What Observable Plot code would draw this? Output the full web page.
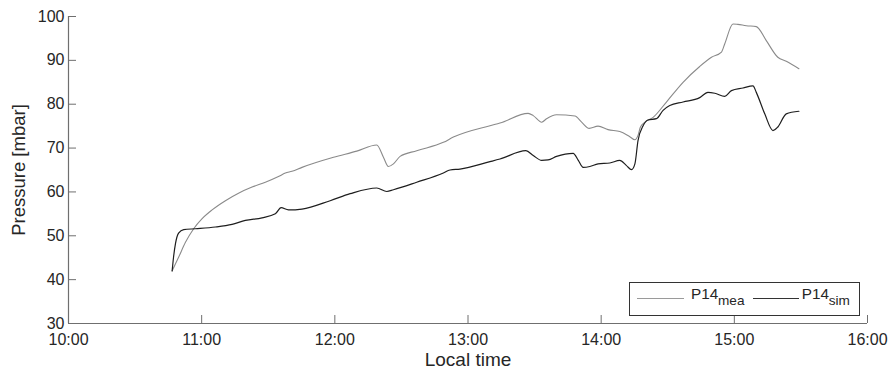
<!DOCTYPE html>
<html>
<head>
<meta charset="utf-8">
<script src="https://cdn.jsdelivr.net/npm/d3@7"></script>
<script src="https://cdn.jsdelivr.net/npm/@observablehq/plot@0.6"></script>
<style>
  html, body { margin: 0; padding: 0; background: #fff; }
  #wrap { position: relative; width: 891px; height: 372px; font-family: "Liberation Sans", Arial, sans-serif; }
  .lg-box { position: absolute; left: 629px; top: 282px; width: 231px; height: 34px; border: 1.4px solid #333; background: #fff; box-sizing: border-box; }
  .lg-ln { position: absolute; top: 297.7px; height: 0; border-top: 1.2px solid; }
  .lg-t { position: absolute; line-height: 1; color: #262626; white-space: nowrap; }
  .lg-main { top: 286px; font-size: 15.3px; }
  .lg-sub { top: 294.2px; font-size: 13.6px; }
</style>
</head>
<body>
<div id="wrap"></div>
<script>
// ---- data (minutes after 10:00, pressure in mbar) ----
const meaMinutes = [46.7, 49.6, 52.7, 56.4, 60.2, 64.7, 70.7, 76.6, 82.7, 88.7, 94.6, 97.7, 100.7, 105.2, 119.4, 129.9, 138.9, 141.9, 144.1, 146.4, 149.4, 156.9, 168.9, 173.4, 189.9, 194.4, 207.1, 209.4, 213.2, 215.4, 219.9, 228.2, 231.2, 234.6, 238.6, 243.1, 248.4, 252.9, 255.2, 256.6, 257.7, 259.7, 263.4, 269.4, 276.9, 284.4, 289.7, 294.2, 295.7, 299.4, 301.6, 305.4, 309.9, 314.4, 319.6, 323.4, 329.1];
const meaValues = [42.0, 45.1, 48.5, 51.6, 53.9, 55.9, 58.0, 59.7, 61.1, 62.2, 63.5, 64.3, 64.7, 65.6, 67.9, 69.3, 70.7, 67.9, 65.8, 66.4, 68.1, 69.4, 71.3, 72.5, 75.1, 75.7, 77.9, 77.4, 75.9, 76.7, 77.6, 77.3, 75.9, 74.5, 75.0, 74.2, 73.8, 72.6, 71.9, 72.9, 74.8, 75.9, 77.0, 80.5, 85.0, 88.6, 90.7, 91.9, 93.8, 98.3, 98.2, 97.9, 97.7, 94.5, 90.7, 89.8, 88.1];
const simMinutes = [46.7, 47.3, 48.2, 49.6, 51.9, 57.2, 66.2, 73.7, 79.7, 87.2, 93.2, 95.8, 99.1, 105.2, 117.9, 126.9, 138.9, 143.4, 146.4, 156.9, 168.9, 171.9, 176.4, 189.9, 194.4, 206.1, 209.4, 213.2, 216.1, 219.9, 227.4, 229.7, 231.9, 234.9, 238.6, 243.9, 248.4, 251.4, 253.7, 255.2, 256.6, 258.9, 261.1, 264.9, 267.9, 270.9, 276.9, 284.4, 288.1, 291.2, 295.7, 298.7, 303.9, 308.4, 309.9, 313.7, 317.4, 319.6, 323.4, 329.1];
const simValues = [42.0, 45.0, 48.2, 50.6, 51.4, 51.6, 52.0, 52.6, 53.5, 54.1, 55.0, 56.4, 55.9, 56.1, 58.0, 59.6, 60.9, 60.1, 60.5, 62.2, 64.3, 65.0, 65.2, 66.9, 67.5, 69.4, 68.3, 67.2, 67.3, 68.1, 68.8, 67.2, 65.6, 65.8, 66.4, 66.6, 67.2, 66.0, 65.1, 66.4, 71.7, 75.1, 76.4, 76.7, 78.6, 79.7, 80.5, 81.5, 82.7, 82.5, 81.8, 83.1, 83.7, 84.2, 82.7, 77.8, 74.0, 74.8, 77.8, 78.4];
const xTickLabels = ["10:00", "11:00", "12:00", "13:00", "14:00", "15:00", "16:00"];
const yTicks = [30, 40, 50, 60, 70, 80, 90, 100];
const xLabel = "Local time";
const yLabel = "Pressure [mbar]";
const seriesName = "P14";
const seriesSubs = ["mea", "sim"];

// ---- build ----
const day = Date.UTC(2000, 0, 1);
const toDate = (m) => new Date(day + 10 * 3600e3 + m * 60e3);
const parseClock = (s) => { const [h, m] = s.split(":").map(Number); return new Date(day + h * 3600e3 + m * 60e3); };
const xTicks = xTickLabels.map(parseClock);
const fmt = d3.utcFormat("%H:%M");

const mea = meaMinutes.map((m, i) => ({t: toDate(m), v: meaValues[i]}));
const sim = simMinutes.map((m, i) => ({t: toDate(m), v: simValues[i]}));

const axisColor = "#6f6f6f";
const textColor = "#262626";
const tickFont = 16;

const chart = Plot.plot({
  width: 891,
  height: 372,
  marginLeft: 68,
  marginRight: 24,
  marginTop: 16,
  marginBottom: 49,
  style: {fontFamily: "'Liberation Sans', Arial, sans-serif", fontSize: "16px", color: textColor, background: "white", overflow: "visible"},
  x: {type: "utc", domain: [xTicks[0], xTicks[xTicks.length - 1]], label: null},
  y: {domain: [yTicks[0], yTicks[yTicks.length - 1]], label: null},
  marks: [
    Plot.ruleY([yTicks[0]], {stroke: axisColor, strokeWidth: 1.2}),
    Plot.ruleX([xTicks[0]], {stroke: axisColor, strokeWidth: 1.2}),
    Plot.axisX({ticks: xTicks, tickSize: 8, dy: -8, tickFormat: () => "", stroke: axisColor, label: null}),
    Plot.axisX({ticks: xTicks, tickSize: 0, tickPadding: 10, tickFormat: fmt, fill: textColor, fontSize: tickFont, label: null}),
    Plot.axisY({ticks: yTicks, tickSize: 8, dx: 8, tickFormat: () => "", stroke: axisColor, label: null}),
    Plot.axisY({ticks: yTicks, tickSize: 0, tickPadding: 4, tickFormat: d3.format("d"), fill: textColor, fontSize: tickFont, label: null}),
    Plot.line(mea, {x: "t", y: "v", stroke: "#8a8a8a", strokeWidth: 1.1, curve: "monotone-x"}),
    Plot.line(sim, {x: "t", y: "v", stroke: "#1e1e1e", strokeWidth: 1.2, curve: "monotone-x"}),
    Plot.text([xLabel], {frameAnchor: "bottom", dy: 42, lineAnchor: "bottom", textAnchor: "middle", fontSize: 19, fill: textColor}),
    Plot.text([yLabel], {frameAnchor: "left", dx: -49, rotate: -90, textAnchor: "middle", lineAnchor: "middle", fontSize: 18.5, fill: textColor})
  ]
});

const wrap = document.getElementById("wrap");
wrap.appendChild(chart);

const lg = document.createElement("div");
lg.innerHTML =
  '<div class="lg-box"></div>' +
  '<div class="lg-ln" style="left:637px;width:47px;border-color:#9a9a9a"></div>' +
  `<div class="lg-t lg-main" style="left:691px">${seriesName}</div>` +
  `<div class="lg-t lg-sub" style="left:718px">${seriesSubs[0]}</div>` +
  '<div class="lg-ln" style="left:752.5px;width:46px;border-color:#333"></div>' +
  `<div class="lg-t lg-main" style="left:801.7px">${seriesName}</div>` +
  `<div class="lg-t lg-sub" style="left:828.7px">${seriesSubs[1]}</div>`;
while (lg.firstChild) wrap.appendChild(lg.firstChild);
</script>
</body>
</html>
